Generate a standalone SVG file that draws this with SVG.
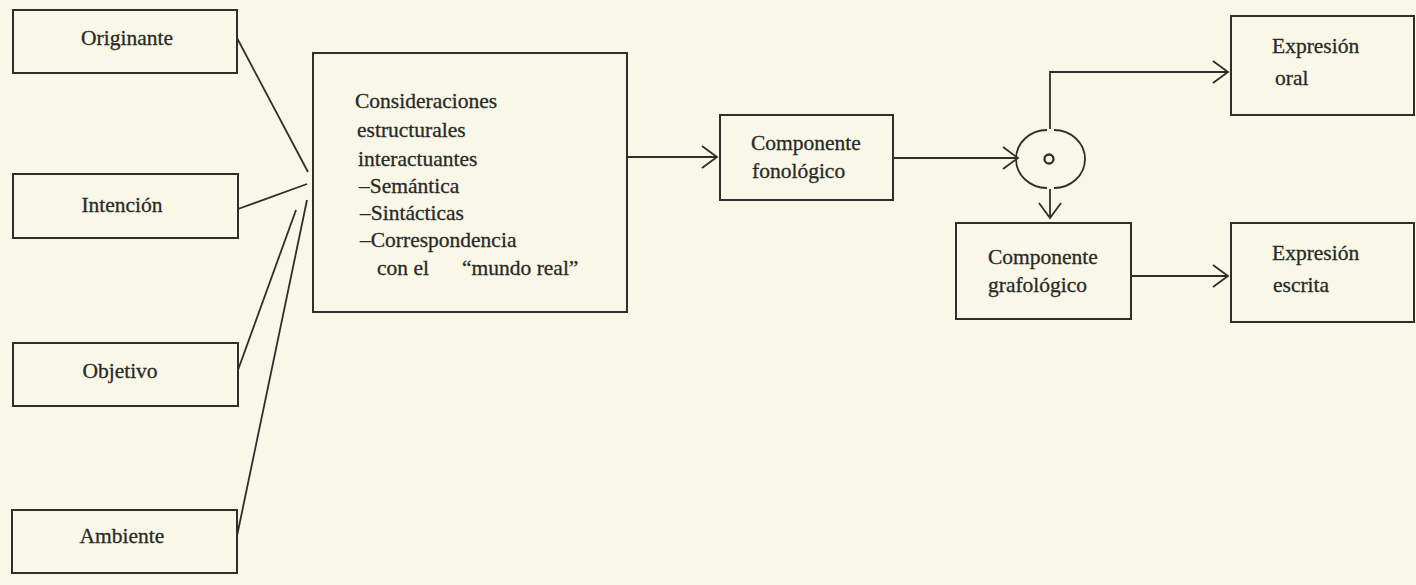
<svg xmlns="http://www.w3.org/2000/svg" width="1416" height="585" viewBox="0 0 1416 585">
<defs>
<marker id="chev" markerUnits="userSpaceOnUse" markerWidth="20" markerHeight="26" viewBox="-17 -13 20 26" refX="0" refY="0" orient="auto">
<path d="M -15 -11 L 0 0 L -15 11" fill="none" stroke="#2e2e2a" stroke-width="1.8"/>
</marker>
<style>
.box{fill:none;stroke:#2e2e2a;stroke-width:2}
.ln{fill:none;stroke:#2e2e2a;stroke-width:1.8}
.t{font-family:"Liberation Serif","Times New Roman",serif;font-size:21.5px;fill:#2a2a26;stroke:#2a2a26;stroke-width:0.3}
.c{text-anchor:middle}
</style>
</defs>
<rect x="0" y="0" width="1416" height="585" fill="#f8f7e8"/>

<g id="connectors">
<line class="ln" x1="237" y1="38" x2="308" y2="172"/>
<line class="ln" x1="238" y1="209" x2="307" y2="184"/>
<line class="ln" x1="238" y1="370" x2="296" y2="210"/>
<line class="ln" x1="237" y1="536" x2="307" y2="200"/>
<line class="ln" x1="627" y1="157" x2="717" y2="157" marker-end="url(#chev)"/>
<line class="ln" x1="893" y1="158" x2="1018" y2="158" marker-end="url(#chev)"/>
<polyline class="ln" points="1050,129 1050,72 1228,72" marker-end="url(#chev)"/>
<line class="ln" x1="1050" y1="189" x2="1050" y2="218" marker-end="url(#chev)"/>
<line class="ln" x1="1131" y1="276" x2="1228" y2="276" marker-end="url(#chev)"/>
</g>

<g id="originante">
<rect class="box" x="13" y="10" width="224" height="63"/>
<text class="t c" x="127" y="45">Originante</text>
</g>
<g id="intencion">
<rect class="box" x="13" y="174" width="225" height="64"/>
<text class="t c" x="122" y="212">Intención</text>
</g>
<g id="objetivo">
<rect class="box" x="13" y="343" width="225" height="63"/>
<text class="t c" x="120" y="378">Objetivo</text>
</g>
<g id="ambiente">
<rect class="box" x="12" y="510" width="225" height="63"/>
<text class="t c" x="122" y="543">Ambiente</text>
</g>

<g id="consideraciones">
<rect class="box" x="313" y="53" width="314" height="259"/>
<text class="t" x="355" y="108">Consideraciones</text>
<text class="t" x="357" y="137">estructurales</text>
<text class="t" x="358" y="166">interactuantes</text>
<text class="t" x="359" y="193">–Semántica</text>
<text class="t" x="360" y="220">–Sintácticas</text>
<text class="t" x="360" y="247">–Correspondencia</text>
<text class="t" x="377" y="275">con el</text>
<text class="t" x="462" y="275">“mundo real”</text>
</g>

<g id="fonologico">
<rect class="box" x="720" y="115" width="173" height="85"/>
<text class="t" x="751" y="150">Componente</text>
<text class="t" x="752" y="178">fonológico</text>
</g>

<g id="selector">
<path class="ln" d="M 1047 130 A 31 29 0 0 0 1047 188"/>
<path class="ln" d="M 1054 130 A 31 29 0 0 1 1054 188"/>
<circle cx="1049" cy="159" r="4.5" fill="none" stroke="#2e2e2a" stroke-width="2.3"/>
</g>

<g id="expresion-oral">
<rect class="box" x="1231" y="16" width="183" height="99"/>
<text class="t" x="1272" y="53">Expresión</text>
<text class="t" x="1275" y="85">oral</text>
</g>

<g id="grafologico">
<rect class="box" x="956" y="223" width="175" height="96"/>
<text class="t" x="988" y="264">Componente</text>
<text class="t" x="988" y="292">grafológico</text>
</g>

<g id="expresion-escrita">
<rect class="box" x="1231" y="223" width="183" height="99"/>
<text class="t" x="1272" y="260">Expresión</text>
<text class="t" x="1273" y="292">escrita</text>
</g>
</svg>
